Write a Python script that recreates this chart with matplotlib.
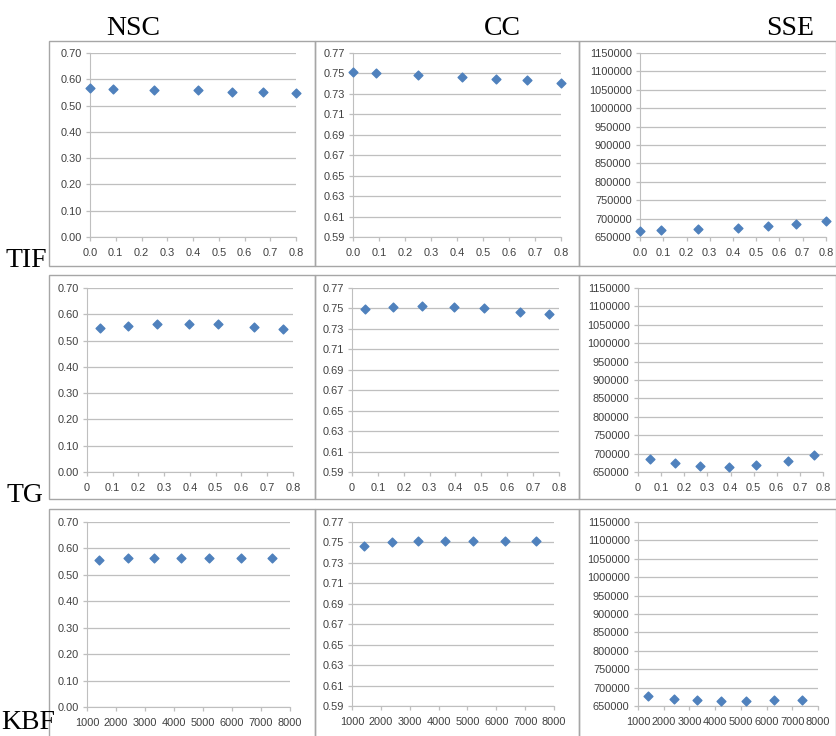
import matplotlib
matplotlib.use("Agg")
import matplotlib.pyplot as plt
from matplotlib.patches import Rectangle
from matplotlib.ticker import FormatStrFormatter, FuncFormatter

# x values for each row
x_tif = [0.0, 0.09, 0.25, 0.42, 0.55, 0.67, 0.8]
x_tg = [0.05, 0.16, 0.27, 0.395, 0.51, 0.65, 0.76]
x_kbf = [1400, 2400, 3300, 4230, 5190, 6300, 7390]

# NSC
nsc_tif = [0.565, 0.564, 0.561, 0.559, 0.553, 0.552, 0.546]
nsc_tg = [0.549, 0.557, 0.563, 0.564, 0.563, 0.552, 0.544]
nsc_kbf = [0.556, 0.564, 0.564, 0.564, 0.564, 0.564, 0.564]

# CC
cc_tif = [0.7512, 0.7505, 0.7489, 0.7466, 0.7450, 0.7431, 0.7411]
cc_tg = [0.7495, 0.7514, 0.7521, 0.7514, 0.7501, 0.7468, 0.7442]
cc_kbf = [0.7468, 0.7504, 0.7517, 0.7517, 0.7517, 0.7517, 0.7517]

# SSE
sse_tif = [666200, 668000, 671700, 675300, 679800, 685200, 693300]
sse_tg = [686200, 675400, 666300, 663600, 668100, 679000, 695300]
sse_kbf = [676300, 668100, 666300, 664500, 664500, 666300, 666300]

col_titles = ["NSC", "CC", "SSE"]
row_titles = ["TIF", "TG", "KBF"]

W, H = 837, 736
fig = plt.figure(figsize=(W / 100, H / 100), dpi=100)

def px(x0, y0, x1, y1):
    return [x0 / W, 1 - y1 / H, (x1 - x0) / W, (y1 - y0) / H]

# panel borders (pixel boxes)
cols_px = [(49, 315), (315, 579), (579, 836)]
rows_px = [(41, 266), (275, 499), (509, 745)]
for (r0, r1) in rows_px:
    for (c0, c1) in cols_px:
        fig.patches.append(Rectangle((c0 / W, 1 - r1 / H), (c1 - c0) / W, (r1 - r0) / H,
                                     transform=fig.transFigure, fill=False,
                                     edgecolor="#a6a6a6", linewidth=1.0))

# plot areas
areas = [
    [(90, 53, 296, 237), (353, 53, 561, 237), (640, 53, 826, 237)],
    [(87, 288, 293, 472), (352, 288, 559, 472), (638, 288, 823, 472)],
    [(87, 522, 290, 707), (352, 522, 554, 706), (638, 522, 818, 706)],
]

xs = [x_tif, x_tg, x_kbf]
ys = [[nsc_tif, cc_tif, sse_tif], [nsc_tg, cc_tg, sse_tg], [nsc_kbf, cc_kbf, sse_kbf]]

tick_family = ["Liberation Sans", "DejaVu Sans"]
grey = "#404040"

for r in range(3):
    for c in range(3):
        ax = fig.add_axes(px(*areas[r][c]))
        ax.scatter(xs[r], ys[r][c], marker="D", s=20, color="#4F81BD", zorder=3,
                   clip_on=False)
        # y axis
        if c == 0:
            ax.set_ylim(0, 0.70)
            ax.set_yticks([0.0, 0.1, 0.2, 0.3, 0.4, 0.5, 0.6, 0.7])
            ax.yaxis.set_major_formatter(FormatStrFormatter("%.2f"))
        elif c == 1:
            ax.set_ylim(0.59, 0.77)
            ax.set_yticks([0.59, 0.61, 0.63, 0.65, 0.67, 0.69, 0.71, 0.73, 0.75, 0.77])
            ax.yaxis.set_major_formatter(FormatStrFormatter("%.2f"))
        else:
            ax.set_ylim(650000, 1150000)
            ax.set_yticks(range(650000, 1150001, 50000))
            ax.yaxis.set_major_formatter(FormatStrFormatter("%d"))
        # x axis
        if r == 0:
            ax.set_xlim(0, 0.8)
            ax.set_xticks([0.0, 0.1, 0.2, 0.3, 0.4, 0.5, 0.6, 0.7, 0.8])
            ax.xaxis.set_major_formatter(FormatStrFormatter("%.1f"))
        elif r == 1:
            ax.set_xlim(0, 0.8)
            ax.set_xticks([0.0, 0.1, 0.2, 0.3, 0.4, 0.5, 0.6, 0.7, 0.8])
            ax.xaxis.set_major_formatter(FuncFormatter(lambda v, p: "0" if abs(v) < 1e-9 else f"{v:g}"))
        else:
            ax.set_xlim(1000, 8000)
            ax.set_xticks(range(1000, 8001, 1000))
            ax.xaxis.set_major_formatter(FormatStrFormatter("%d"))

        ax.grid(axis="y", color="#bfbfbf", linewidth=0.9)
        ax.set_axisbelow(True)
        for s in ["top", "right"]:
            ax.spines[s].set_visible(False)
        ax.spines["left"].set_color("#bfbfbf")
        ax.spines["bottom"].set_color("#bfbfbf")
        ax.tick_params(axis="both", colors="#bfbfbf", length=3, width=0.9,
                       labelcolor=grey)
        for lab in ax.get_xticklabels() + ax.get_yticklabels():
            lab.set_fontfamily(tick_family)
            lab.set_fontsize(7.9)
        ax.tick_params(axis="x", pad=5)
        ax.tick_params(axis="y", pad=3)

serif = ["Liberation Serif", "DejaVu Serif"]
title_x = [133, 502, 790]
for c in range(3):
    fig.text(title_x[c] / W, 1 - 35 / H, col_titles[c], ha="center", va="baseline",
             fontsize=20, family=serif)

row_pos = [(6, 267), (7, 502), (1, 729)]
for r in range(3):
    fig.text(row_pos[r][0] / W, 1 - row_pos[r][1] / H, row_titles[r], ha="left",
             va="baseline", fontsize=20, family=serif)

fig.savefig("out.png", dpi=100)
